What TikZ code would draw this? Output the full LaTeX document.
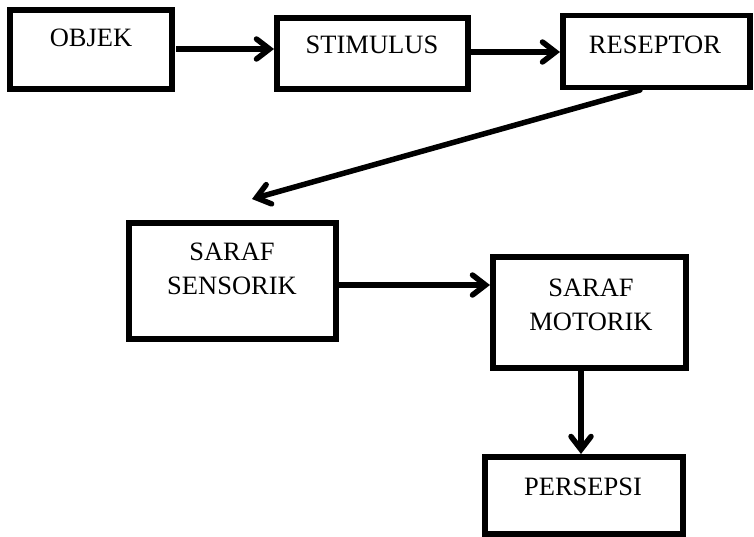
\documentclass[tikz,border=0pt]{standalone}
\usepackage{fontspec}
\setmainfont{Liberation Serif}
\usetikzlibrary{arrows.meta}
\begin{document}
\begin{tikzpicture}[x=1pt,y=-1pt,
  box/.style={draw=black, line width=5.5pt, rectangle, inner sep=0pt, outer sep=0pt},
  lbl/.style={font=\fontsize{26.5}{34}\selectfont, align=center, inner sep=0pt},
  conn/.style={line width=5.5pt, -{Straight Barb[length=13pt,width=20pt,line cap=round]}}]
\useasboundingbox (0,0) rectangle (754,536);
% boxes
\node[box, minimum width=162pt, minimum height=79pt] (objek) at (91,49.5) {};
\node[box, minimum width=191pt, minimum height=71pt] (stim) at (372.5,53.5) {};
\node[box, minimum width=187pt, minimum height=72pt] (resep) at (656.5,51.5) {};
\node[box, minimum width=207pt, minimum height=116pt] (sens) at (232.5,281) {};
\node[box, minimum width=193pt, minimum height=111pt] (motor) at (589.5,312.5) {};
\node[box, minimum width=198pt, minimum height=77pt] (persep) at (584,495.5) {};
% texts
\node[lbl] (tobjek) at (91,38) {OBJEK};
\node[lbl] (tstim) at (372,45) {STIMULUS};
\node[lbl] (tresep) at (655,45) {RESEPTOR};
\node[lbl] (tsens) at (232,269) {SARAF\\SENSORIK};
\node[lbl] (tmotor) at (591,304.5) {SARAF\\MOTORIK};
\node[lbl] (tpersep) at (583,487) {PERSEPSI};
% connector levels
\coordinate (y1) at (0,49);
\coordinate (y2) at (0,52);
\coordinate (y4) at (0,285);
\coordinate (x5) at (581,0);
\coordinate (rstart) at (640,90);
\coordinate (rend) at (252,199);
% connectors
\draw[conn, shorten <=4pt, shorten >=3pt] (objek.east |- y1) -- (stim.west |- y1);
\draw[conn, shorten <=0pt, shorten >=3pt] (stim.east |- y2) -- (resep.west |- y2);
\draw[conn, line cap=round] (rstart) -- (rend);
\draw[conn, shorten <=1pt, shorten >=3pt] (sens.east |- y4) -- (motor.west |- y4);
\draw[conn, shorten <=0pt, shorten >=3pt] (x5 |- motor.south) -- (x5 |- persep.north);
\end{tikzpicture}
\end{document}
